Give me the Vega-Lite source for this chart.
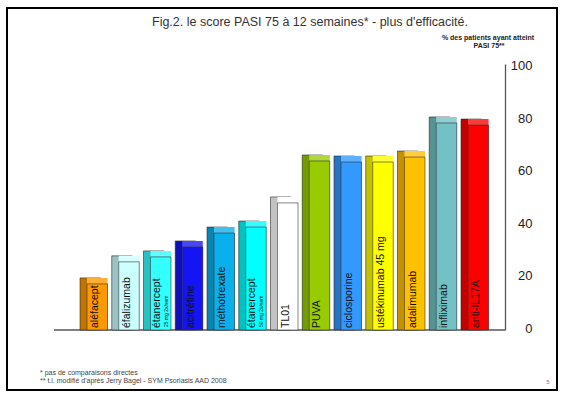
{
  "$schema": "https://vega.github.io/schema/vega-lite/v6.json",
  "width": 451,
  "height": 266,
  "autosize": {"type": "none"},
  "padding": {"left": 54, "top": 64, "right": 58, "bottom": 67},
  "background": "white",
  "config": {
    "view": {"stroke": null},
    "font": "Liberation Sans",
    "text": {"font": "Liberation Sans"}
  },
  "datasets": {
    "bars": [
      {"drug": "aléfacept", "label": "aléfacept", "sub": "", "value": 17.6},
      {"drug": "éfalizumab", "label": "éfalizumab", "sub": "", "value": 26},
      {"drug": "étanercept 25", "label": "étanercept", "sub": "25 mg 2x/sem", "value": 27.9},
      {"drug": "acitrétine", "label": "acitrétine", "sub": "", "value": 31.7},
      {"drug": "méthotrexate", "label": "méthotrexate", "sub": "", "value": 37},
      {"drug": "étanercept 50", "label": "étanercept", "sub": "50 mg 2x/sem", "value": 39.3},
      {"drug": "TL01", "label": "TL01", "sub": "", "value": 48.5},
      {"drug": "PUVA", "label": "PUVA", "sub": "", "value": 64.5},
      {"drug": "ciclosporine", "label": "ciclosporine", "sub": "", "value": 64.1},
      {"drug": "ustékinumab 45 mg", "label": "ustékinumab 45 mg", "sub": "", "value": 64.1},
      {"drug": "adalimumab", "label": "adalimumab", "sub": "", "value": 66},
      {"drug": "infliximab", "label": "infliximab", "sub": "", "value": 79},
      {"drug": "anti-IL17A", "label": "anti-IL17A", "sub": "", "value": 78.2}
    ]
  },
  "resolve": {"scale": {"x": "independent"}, "axis": {"x": "independent", "y": "independent"}},
  "layer": [
    {
      "data": {"values": [{}]},
      "mark": {"type": "rule", "color": "#555", "strokeWidth": 1.3},
      "encoding": {
        "x": {"datum": 0, "type": "quantitative", "scale": {"domain": [0, 1], "nice": false, "zero": false}, "axis": null},
        "x2": {"datum": 1},
        "y": {
          "datum": 0, "type": "quantitative",
          "scale": {"domain": [0, 101.5], "nice": false, "zero": false},
          "axis": {
            "orient": "right", "title": null,
            "domainColor": "#555", "domainWidth": 1.3,
            "tickSize": 0, "labelPadding": 27, "labelAlign": "right",
            "labelFontSize": 13, "labelColor": "#222", "labelOffset": -2
          }
        }
      }
    },
    {
      "data": {"name": "bars"},
      "encoding": {
        "x": {
          "field": "drug", "type": "nominal", "sort": null, "axis": null,
          "scale": {"range": [33, 434.5], "paddingInner": 0.354, "paddingOuter": 0}
        }
      },
      "layer": [
        {
          "mark": {"type": "bar", "xOffset": -7, "yOffset": -6, "stroke": "#333", "strokeWidth": 0.6},
          "encoding": {
            "y": {"field": "value", "type": "quantitative", "scale": {"domain": [0, 101.5], "nice": false, "zero": false}, "axis": null},
            "y2": {"datum": 0},
            "color": {
              "field": "drug", "type": "nominal", "legend": null,
              "scale": {
                "domain": ["aléfacept", "éfalizumab", "étanercept 25", "acitrétine", "méthotrexate", "étanercept 50", "TL01", "PUVA", "ciclosporine", "ustékinumab 45 mg", "adalimumab", "infliximab", "anti-IL17A"],
                "range": ["#FF9900", "#CCFFFF", "#33FFFF", "#1414F5", "#0AB0EC", "#00FFFF", "#FFFFFF", "#99CC00", "#3399FF", "#FFFF00", "#FFC000", "#72C1C4", "#FF0000"]
              }
            }
          }
        },
        {
          "mark": {"type": "bar", "xOffset": -7, "yOffset": -6, "fill": "#000", "fillOpacity": 0.24},
          "encoding": {
            "y": {"field": "value", "type": "quantitative", "scale": {"domain": [0, 101.5], "nice": false, "zero": false}, "axis": null},
            "y2": {"datum": 0}
          }
        },
        {
          "mark": {"type": "bar", "yOffset": -6},
          "encoding": {
            "y": {"field": "value", "type": "quantitative", "scale": {"domain": [0, 101.5], "nice": false, "zero": false}, "axis": null},
            "y2": {"datum": 0},
            "color": {"field": "drug", "type": "nominal", "legend": null}
          }
        },
        {
          "mark": {"type": "bar", "yOffset": -6, "fill": "#fff", "fillOpacity": 0.22},
          "encoding": {
            "y": {"field": "value", "type": "quantitative", "scale": {"domain": [0, 101.5], "nice": false, "zero": false}, "axis": null},
            "y2": {"datum": 0}
          }
        },
        {
          "mark": {"type": "bar", "stroke": "#333", "strokeWidth": 0.6},
          "encoding": {
            "y": {"field": "value", "type": "quantitative", "scale": {"domain": [0, 101.5], "nice": false, "zero": false}, "axis": null},
            "y2": {"datum": 0},
            "color": {"field": "drug", "type": "nominal", "legend": null}
          }
        },
        {
          "transform": [{"filter": "datum.sub == ''"}],
          "mark": {"type": "text", "angle": 270, "align": "left", "baseline": "middle", "fontSize": 10.5, "color": "#111", "xOffset": -2, "yOffset": -2},
          "encoding": {
            "y": {"datum": 0, "type": "quantitative", "scale": {"domain": [0, 101.5], "nice": false, "zero": false}, "axis": null},
            "text": {"field": "label"}
          }
        },
        {
          "transform": [{"filter": "datum.sub != ''"}],
          "mark": {"type": "text", "angle": 270, "align": "left", "baseline": "middle", "fontSize": 10.5, "color": "#111", "xOffset": -4, "yOffset": -2},
          "encoding": {
            "y": {"datum": 0, "type": "quantitative", "scale": {"domain": [0, 101.5], "nice": false, "zero": false}, "axis": null},
            "text": {"field": "label"}
          }
        },
        {
          "transform": [{"filter": "datum.sub != ''"}],
          "mark": {"type": "text", "angle": 270, "align": "left", "baseline": "middle", "fontSize": 5, "color": "#111", "xOffset": 5, "yOffset": -3},
          "encoding": {
            "y": {"datum": 0, "type": "quantitative", "scale": {"domain": [0, 101.5], "nice": false, "zero": false}, "axis": null},
            "text": {"field": "sub"}
          }
        }
      ]
    },
    {
      "data": {"values": [{}]},
      "mark": {"type": "rect", "fill": "transparent", "stroke": "#000", "strokeWidth": 2},
      "encoding": {
        "x": {"datum": -0.1042, "type": "quantitative", "scale": {"domain": [0, 1], "nice": false, "zero": false}, "axis": null},
        "x2": {"datum": 1.1153},
        "y": {"datum": 122.9, "type": "quantitative", "scale": {"domain": [0, 101.5], "nice": false, "zero": false}, "axis": null},
        "y2": {"datum": -22.9}
      }
    },
    {
      "data": {"values": [{}]},
      "mark": {"type": "text", "fontSize": 12.5, "color": "#333", "align": "center", "baseline": "middle"},
      "encoding": {
        "x": {"datum": 0.5676, "type": "quantitative", "scale": {"domain": [0, 1], "nice": false, "zero": false}, "axis": null},
        "y": {"datum": 117.6, "type": "quantitative", "scale": {"domain": [0, 101.5], "nice": false, "zero": false}, "axis": null},
        "text": {"value": "Fig.2. le score PASI 75 à 12 semaines* - plus d'efficacité."}
      }
    },
    {
      "data": {"values": [{}]},
      "mark": {"type": "text", "fontSize": 7, "fontWeight": "bold", "color": "#222", "align": "center", "baseline": "middle"},
      "encoding": {
        "x": {"datum": 0.9623, "type": "quantitative", "scale": {"domain": [0, 1], "nice": false, "zero": false}, "axis": null},
        "y": {"datum": 111.5, "type": "quantitative", "scale": {"domain": [0, 101.5], "nice": false, "zero": false}, "axis": null},
        "text": {"value": "% des patients ayant  atteint"}
      }
    },
    {
      "data": {"values": [{}]},
      "mark": {"type": "text", "fontSize": 7, "fontWeight": "bold", "color": "#222", "align": "center", "baseline": "middle"},
      "encoding": {
        "x": {"datum": 0.9645, "type": "quantitative", "scale": {"domain": [0, 1], "nice": false, "zero": false}, "axis": null},
        "y": {"datum": 108.4, "type": "quantitative", "scale": {"domain": [0, 101.5], "nice": false, "zero": false}, "axis": null},
        "text": {"value": "PASI 75**"}
      }
    },
    {
      "data": {"values": [{}]},
      "mark": {"type": "text", "fontSize": 7, "color": "#444", "align": "left", "baseline": "middle"},
      "encoding": {
        "x": {"datum": -0.031, "type": "quantitative", "scale": {"domain": [0, 1], "nice": false, "zero": false}, "axis": null},
        "y": {"datum": -16.4, "type": "quantitative", "scale": {"domain": [0, 101.5], "nice": false, "zero": false}, "axis": null},
        "text": {"value": "*  pas de comparaisons  directes"}
      }
    },
    {
      "data": {"values": [{}]},
      "mark": {"type": "text", "fontSize": 7, "color": "#444", "align": "left", "baseline": "middle"},
      "encoding": {
        "x": {"datum": -0.031, "type": "quantitative", "scale": {"domain": [0, 1], "nice": false, "zero": false}, "axis": null},
        "y": {"datum": -19.5, "type": "quantitative", "scale": {"domain": [0, 101.5], "nice": false, "zero": false}, "axis": null},
        "text": {"value": "** t.i. modifié  d'après Jerry Bagel - SYM Psoriasis AAD 2008"}
      }
    },
    {
      "data": {"values": [{}]},
      "mark": {"type": "text", "fontSize": 6, "color": "#6A7A90", "align": "center", "baseline": "middle"},
      "encoding": {
        "x": {"datum": 1.0953, "type": "quantitative", "scale": {"domain": [0, 1], "nice": false, "zero": false}, "axis": null},
        "y": {"datum": -19.8, "type": "quantitative", "scale": {"domain": [0, 101.5], "nice": false, "zero": false}, "axis": null},
        "text": {"value": "5"}
      }
    }
  ]
}
